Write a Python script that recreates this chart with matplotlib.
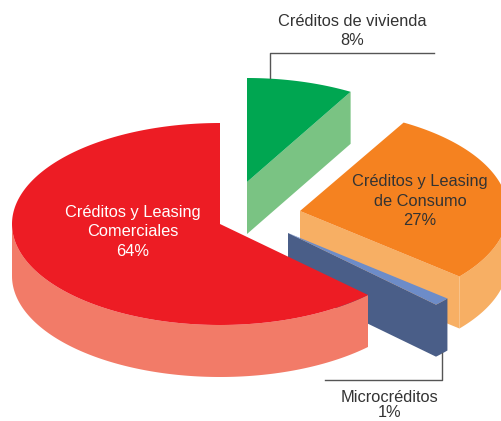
import numpy as np
import matplotlib
matplotlib.use('Agg')
import matplotlib.pyplot as plt

plt.rcParams['font.family'] = ['Liberation Sans', 'DejaVu Sans']

# slices clockwise from 12 o'clock, shares as drawn in the picture
names = ['Créditos de vivienda', 'Créditos y Leasing\nde Consumo', 'Microcréditos', 'Créditos y Leasing\nComerciales']
labels_pct = ['8%', '27%', '1%', '64%']
shares = [8.3, 27.8, 1.3, 62.6]

top_colors = ['#00A651', '#F58220', '#6D8CC8', '#ED1C24']
side_colors = ['#7AC383', '#F7AF64', '#4A5E88', '#F27B68']

# exploded centre of every slice, in pixels
centers = [(247, 182), (300, 211), (288, 233), (220, 224)]
radii_y = [104, 102, 102, 101]
text_pos = [(352, 31), (420, 201), (390, 405), (133, 232)]
text_colors = ['#333333', '#333333', '#333333', 'white']
text_spacing = [1.3, 1.35, 1.05, 1.35]

rx = 208
depth = 52

fig = plt.figure(figsize=(5.02, 4.21), dpi=100)
ax = fig.add_axes([0, 0, 1, 1])
ax.set_xlim(0, 502)
ax.set_ylim(421, 0)
ax.axis('off')


def arc(cx, cy, ry, a, b):
    t = np.radians(np.linspace(a, b, 200))
    return cx + rx * np.cos(t), cy - ry * np.sin(t)


edges = 90 - 3.6 * np.concatenate([[0], np.cumsum(shares)])

for i in range(len(shares)):
    a, b = edges[i], edges[i + 1]
    cx, cy = centers[i]
    ry = radii_y[i]
    x, y = arc(cx, cy, ry, a, b)

    # cut face on the clockwise end
    ax.fill([cx, x[-1], x[-1], cx], [cy, y[-1], y[-1] + depth, cy + depth],
            color=side_colors[i], lw=0)

    # outer wall, only the part below the middle of the ellipse is seen
    lo = min(a, 0)
    hi = max(b, -180)
    if lo > hi:
        wx, wy = arc(cx, cy, ry, lo, hi)
        ax.fill(np.r_[wx, wx[::-1]], np.r_[wy, wy[::-1] + depth],
                color=side_colors[i], lw=0)

    ax.fill(np.r_[cx, x], np.r_[cy, y], color=top_colors[i], lw=0)

    ax.text(text_pos[i][0], text_pos[i][1], names[i] + '\n' + labels_pct[i],
            color=text_colors[i], fontsize=11.8, ha='center', va='center',
            linespacing=text_spacing[i])

# leader lines
ax.plot([270, 270, 434], [78, 53, 53], color='#555555', lw=1)
ax.plot([442, 442, 325], [353, 380, 380], color='#555555', lw=1)

fig.savefig('out.png', dpi=100)
